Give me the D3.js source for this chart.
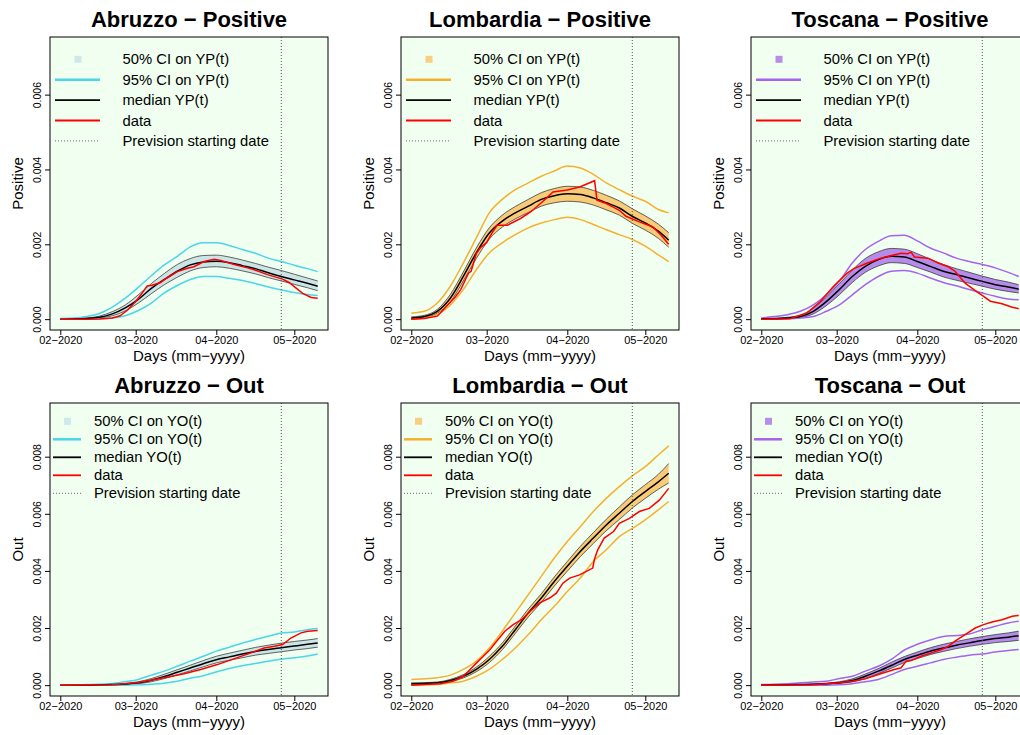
<!DOCTYPE html>
<html>
<head>
<meta charset="utf-8">
<script src="https://cdn.jsdelivr.net/npm/d3@7"></script>
<style>
  body { margin: 0; background: #fff; }
  svg text { font-family: "Liberation Sans", Arial, Helvetica, sans-serif; fill: #000; }
</style>
</head>
<body>
<div id="chart"></div>
<script>
// all model / data values below are in units of 1e-4
var SCALE = 1e-4;
// days counted from 2020-02-01
var gridDays = [0,5,10,15,20,25,30,35,40,45,50,55,60,65,70,75,80,85,90,95,99];
var previsionDay = 85;   // 2020-04-26
var lastDay = 99;        // 2020-05-10

var regions = ["Abruzzo", "Lombardia", "Toscana"];
var measures = ["Positive", "Out"];
var measureKeys = ["YP", "YO"];
var yTicksPos = [0, 0.002, 0.004, 0.006];
var yTicksOut = [0, 0.002, 0.004, 0.006, 0.008];
var yMaxPos = 0.00725, yMaxOut = 0.0095;

// ---- Abruzzo - Positive
var abrPosHi95 = [0.2,0.3,0.7,1.5,3.2,5.6,8.5,11.6,14.5,16.8,19.3,20.4,20.4,19.7,18.6,17.6,16.3,15.4,14.4,13.5,12.7];
var abrPosHi50 = [0.05,0.1,0.3,0.8,2.0,3.8,6.5,9.5,12.2,14.6,16.2,17.0,17.1,16.6,15.8,14.9,13.9,13.0,12.0,11.0,10.2];
var abrPosMed  = [0,0.05,0.2,0.5,1.4,3.0,5.3,8.2,10.6,12.8,14.5,15.3,15.5,15.1,14.3,13.5,12.4,11.4,10.5,9.6,8.8];
var abrPosLo50 = [0,0.03,0.1,0.3,0.9,2.2,4.3,6.8,9.2,11.2,12.9,13.8,14.0,13.6,12.9,12.1,11.1,10.2,9.3,8.4,7.6];
var abrPosLo95 = [0,0,0.05,0.1,0.3,0.9,2.3,4.3,7.0,9.0,10.6,11.4,11.4,10.9,10.3,9.5,8.6,7.8,7.1,6.6,6.3];
var abrPosDataDays = [0,10,15,20,23,26,29,31,33.4,35,38.6,41,45,48.9,51.4,55.3,59.2,61.7,66.9,72,74.6,79.7,85.5,88,90,93.2,96.5,99];
var abrPosData     = [0,0,0.05,0.3,0.9,2.5,4.7,6.5,8.9,9.0,9.8,11.0,12.7,13.6,14.0,15.4,16.0,15.7,14.6,13.7,13.2,11.9,10.7,9.8,8.7,6.9,5.8,5.6];

// ---- Lombardia - Positive
var lomPosHi95 = [1.6,2.1,4.3,8.8,15.0,21.7,28.4,32.0,34.6,36.4,38.2,39.6,40.9,40.4,38.7,36.4,34.6,32.9,31.5,29.3,28.4];
var lomPosHi50 = [0.6,1.0,2.6,6.6,12.6,19.0,24.4,27.8,30.1,32.0,33.8,34.9,35.5,35.3,34.4,33.1,31.6,29.5,27.6,25.4,23.1];
var lomPosMed  = [0.3,0.7,2.1,5.6,11.4,17.7,23.0,26.2,28.4,30.2,32.0,33.0,33.5,33.3,32.4,31.1,29.7,27.5,25.7,23.5,21.1];
var lomPosLo50 = [0.1,0.4,1.6,4.6,10.2,16.2,21.4,24.6,26.8,28.5,30.2,31.1,31.5,31.3,30.5,29.2,27.8,25.6,23.8,21.6,19.2];
var lomPosLo95 = [0,0.3,1.2,3.8,7.9,13.2,17.7,20.4,22.6,24.4,25.7,26.6,27.2,26.6,25.3,23.9,22.6,21.3,19.5,17.2,15.4];
var lomPosDataDays = [0,5,10,15,17,19,22,23,25,26.5,29,31,33,37,42,46,52,54.5,60,65,70.5,71.4,75,77.5,80,82.6,87.7,92.8,96,99];
var lomPosData     = [0,0.2,0.8,4.5,6.0,7.9,12.3,12.8,17.5,19.0,20.5,23.0,25.1,25.1,26.9,28.7,32.3,34.0,34.5,35.4,37.0,31.8,30.9,30.0,29.1,27.5,26.0,24.7,22.5,20.0];

// ---- Toscana - Positive
var tosPosHi95 = [0.3,0.7,1.2,2.1,3.8,6.5,10.1,15.0,18.6,20.8,22.3,22.4,20.9,19.0,17.7,16.3,15.4,14.6,13.7,12.5,11.4];
var tosPosHi50 = [0.2,0.3,0.5,1.1,2.9,5.9,9.5,13.1,16.2,18.0,18.9,18.7,17.5,16.0,14.6,13.5,12.5,11.5,10.6,9.9,9.2];
var tosPosMed  = [0.1,0.1,0.3,0.7,2.1,4.7,7.9,11.4,14.1,15.9,16.8,16.6,15.4,14.1,12.8,11.9,11.0,10.1,9.2,8.6,8.0];
var tosPosLo50 = [0,0.05,0.15,0.4,1.4,3.6,6.5,9.8,12.5,14.2,15.1,14.9,13.8,12.6,11.3,10.4,9.6,8.8,8.0,7.4,7.0];
var tosPosLo95 = [0,0,0.1,0.3,0.7,2.1,3.8,6.5,9.2,11.4,12.8,13.0,12.3,11.0,9.8,8.9,7.9,7.0,6.1,5.4,5.2];
var tosPosDataDays = [0,11,17.5,22.7,27.8,33,35.6,40.8,46,51.2,53.8,56.3,57.6,58.9,64.1,68,71.9,74.5,78.4,82.3,85.5,88.1,92.6,96.5,99];
var tosPosData     = [0,0.1,1.6,4.7,8.8,12.3,13.5,15.0,16.3,17.2,17.6,17.5,17.9,16.6,16.3,15.0,14.0,12.8,9.6,7.6,6.1,4.8,4.1,3.2,2.8];

// ---- Abruzzo - Out
var abrOutHi95 = [0.1,0.1,0.2,0.3,0.6,1.2,2.0,3.5,4.9,6.6,8.4,10.1,11.9,13.3,14.7,16.0,17.1,18.3,18.6,19.4,19.8];
var abrOutHi50 = [0,0,0.05,0.15,0.3,0.6,1.2,2.3,3.8,5.4,7.0,8.6,10.1,11.2,12.2,13.2,14.0,14.7,15.3,15.8,16.3];
var abrOutMed  = [0,0,0,0.1,0.2,0.4,0.8,1.7,3.0,4.5,6.0,7.5,8.9,9.9,10.9,11.8,12.5,13.1,13.7,14.3,14.8];
var abrOutLo50 = [0,0,0,0.05,0.1,0.25,0.5,1.2,2.3,3.6,5.0,6.4,7.8,8.7,9.6,10.5,11.1,11.7,12.3,12.8,13.3];
var abrOutLo95 = [0,0,0,0,0,0,0.1,0.3,0.7,1.4,2.4,3.3,4.6,5.8,6.8,7.6,8.4,9.1,9.6,10.2,10.9];
var abrOutDataDays = [0,20,29,34.7,41,47.6,54,60.4,67,73.3,78.4,82.3,85.5,88.7,92.6,95.2,99];
var abrOutData     = [0,0.1,0.8,1.7,2.8,4.0,5.5,7.2,9.3,11.3,13.0,13.6,14.2,16.5,18.3,18.9,19.1];

// ---- Lombardia - Out
var lomOutHi95 = [2.0,2.2,2.6,3.5,5.5,8.4,13.0,18.9,25.3,31.7,38.1,44.5,50.3,55.5,60.8,65.4,69.5,73.3,76.5,80.6,83.8];
var lomOutHi50 = [0.8,0.9,1.1,2.0,3.7,6.3,10.1,14.8,20.7,26.7,32.0,37.9,43.3,48.6,53.4,58.1,62.4,66.6,70.2,73.8,77.6];
var lomOutMed  = [0.5,0.6,0.8,1.6,3.1,5.5,9.0,13.6,19.4,25.3,30.5,36.3,41.6,46.8,51.5,56.1,60.2,64.3,67.8,71.2,74.2];
var lomOutLo50 = [0.2,0.4,0.5,1.2,2.5,4.7,7.9,12.4,18.1,23.9,29.0,34.7,39.9,45.0,49.6,54.1,58.0,62.0,65.4,68.6,70.8];
var lomOutLo95 = [0,0.1,0.2,0.8,1.4,3.1,5.5,9.0,13.0,17.7,22.9,27.6,32.8,37.5,43.3,47.4,52.0,54.9,57.9,61.4,64.3];
var lomOutDataDays = [0,11.1,16.2,20,22.6,25.1,27.7,30.3,32.8,36,39.2,42.4,45.6,49.4,53.2,55.8,58.3,60.9,64.7,69.8,70.4,71.7,74.2,77.8,80,83.9,87.7,91.5,95.4,99];
var lomOutData     = [0,0.5,1.4,3.1,5.5,7.8,10.1,12.5,15.4,18.9,21.2,22.9,25.8,28.8,30.5,32.2,35.7,37.5,38.6,41.0,44.0,47.4,51.5,53.8,56.7,58.4,60.8,61.9,64.8,68.9];

// ---- Toscana - Out
var tosOutHi95 = [0.2,0.3,0.5,0.8,1.1,1.4,2.3,3.1,4.9,6.6,9.0,12.3,14.3,15.8,17.0,17.4,17.9,19.4,20.6,21.8,22.4];
var tosOutHi50 = [0.05,0.1,0.15,0.25,0.4,0.7,1.2,2.2,3.9,5.8,8.0,10.0,11.6,13.1,14.3,15.3,16.2,17.0,17.7,18.3,18.9];
var tosOutMed  = [0,0.05,0.1,0.2,0.3,0.5,0.8,1.6,3.1,4.9,6.9,9.0,10.5,11.9,13.0,14.0,14.8,15.6,16.3,16.8,17.3];
var tosOutLo50 = [0,0.02,0.05,0.1,0.2,0.35,0.6,1.1,2.3,4.0,5.9,7.9,9.3,10.7,11.8,12.8,13.6,14.3,14.9,15.3,15.7];
var tosOutLo95 = [0,0,0,0,0,0,0.1,0.5,1.2,2.0,3.7,5.5,6.6,7.8,9.0,9.8,10.5,10.9,11.6,12.1,12.5];
var tosOutDataDays = [0,20,30,35,40,45,51.2,53.8,55.7,57.6,61.5,65.4,69.3,71.9,74.5,78.4,82.3,85.5,88.7,92.6,96.5,99];
var tosOutData     = [0,0.1,0.8,1.4,2.2,3.7,5.5,6.1,8.4,8.6,10.1,11.3,12.5,13.6,15.4,17.7,20.0,21.2,22.1,22.9,24.1,24.4];

var palette = {
    Abruzzo:   { line: "#4AD6E6", fill: "#CBE5E6", square: "#D0E8EA" },
    Lombardia: { line: "#F5B02E", fill: "#F7CB78", square: "#F8CF82" },
    Toscana:   { line: "#A463F0", fill: "#B68CEB", square: "#B58DEA" }
};

var panels = [
    { col: 0, row: 0, hi95: abrPosHi95, hi50: abrPosHi50, med: abrPosMed, lo50: abrPosLo50, lo95: abrPosLo95, dDays: abrPosDataDays, dVals: abrPosData },
    { col: 1, row: 0, hi95: lomPosHi95, hi50: lomPosHi50, med: lomPosMed, lo50: lomPosLo50, lo95: lomPosLo95, dDays: lomPosDataDays, dVals: lomPosData },
    { col: 2, row: 0, hi95: tosPosHi95, hi50: tosPosHi50, med: tosPosMed, lo50: tosPosLo50, lo95: tosPosLo95, dDays: tosPosDataDays, dVals: tosPosData },
    { col: 0, row: 1, hi95: abrOutHi95, hi50: abrOutHi50, med: abrOutMed, lo50: abrOutLo50, lo95: abrOutLo95, dDays: abrOutDataDays, dVals: abrOutData },
    { col: 1, row: 1, hi95: lomOutHi95, hi50: lomOutHi50, med: lomOutMed, lo50: lomOutLo50, lo95: lomOutLo95, dDays: lomOutDataDays, dVals: lomOutData },
    { col: 2, row: 1, hi95: tosOutHi95, hi50: tosOutHi50, med: tosOutMed, lo50: tosOutLo50, lo95: tosOutLo95, dDays: tosOutDataDays, dVals: tosOutData }
];

/*---------------------------------------------------------------------------------------*/

var width = 1020, height = 735;
var plotLeft = [50, 401, 751], plotTop = [37, 403];
var plotW = 278, plotH = 293;

var svg = d3.select("#chart").append("svg")
    .attr("width", width)
    .attr("height", height);

var t0 = Date.UTC(2020, 1, 1);
function dayToDate(d) { return new Date(t0 + d * 864e5); }

var xScale = d3.scaleUtc()
    .domain([dayToDate(-0.04 * lastDay), dayToDate(lastDay * 1.04)])
    .range([0, plotW]);

var monthTicks = [dayToDate(0), dayToDate(29), dayToDate(60), dayToDate(90)];

function drawPanel(p) {
    var region = regions[p.col], measure = measures[p.row], key = measureKeys[p.row];
    var pal = palette[region];
    var yMax = p.row == 0 ? yMaxPos : yMaxOut;
    var yScale = d3.scaleLinear()
        .domain([-0.04 * yMax, 1.04 * yMax])
        .range([plotH, 0]);

    var canvas = svg.append("g")
        .attr("transform", "translate(" + plotLeft[p.col] + "," + plotTop[p.row] + ")");

    canvas.append("rect")
        .attr("width", plotW)
        .attr("height", plotH)
        .attr("fill", "#F0FFF0");

    var model = gridDays.map(function (d, i) {
        return { date: dayToDate(d), hi95: p.hi95[i] * SCALE, hi50: p.hi50[i] * SCALE,
                 med: p.med[i] * SCALE, lo50: p.lo50[i] * SCALE, lo95: p.lo95[i] * SCALE };
    });
    var obs = p.dDays.map(function (d, i) { return { date: dayToDate(d), v: p.dVals[i] * SCALE }; });

    // 50% band
    canvas.append("path")
        .datum(model)
        .attr("fill", pal.fill)
        .attr("d", d3.area().curve(d3.curveMonotoneX)
            .x(function (d) { return xScale(d.date); })
            .y0(function (d) { return yScale(d.lo50); })
            .y1(function (d) { return yScale(d.hi50); }));

    function modelLine(field, color, w, op) {
        canvas.append("path")
            .datum(model)
            .attr("fill", "none")
            .attr("stroke", color)
            .attr("stroke-width", w)
            .attr("stroke-opacity", op)
            .attr("d", d3.line().curve(d3.curveMonotoneX)
                .x(function (d) { return xScale(d.date); })
                .y(function (d) { return yScale(d[field]); }));
    }
    modelLine("lo50", "#333", 1, 0.75);
    modelLine("hi50", "#333", 1, 0.75);
    modelLine("lo95", pal.line, 1.5, 1);
    modelLine("hi95", pal.line, 1.5, 1);
    modelLine("med", "#000", 1.5, 1);

    canvas.append("path")
        .datum(obs)
        .attr("fill", "none")
        .attr("stroke", "#FF0000")
        .attr("stroke-width", 1.5)
        .attr("d", d3.line()
            .x(function (d) { return xScale(d.date); })
            .y(function (d) { return yScale(d.v); }));

    // prevision starting date
    canvas.append("line")
        .attr("x1", xScale(dayToDate(previsionDay)))
        .attr("x2", xScale(dayToDate(previsionDay)))
        .attr("y1", 0)
        .attr("y2", plotH)
        .attr("stroke", "#555")
        .attr("stroke-width", 1)
        .attr("stroke-dasharray", "1,2");

    canvas.append("rect")
        .attr("width", plotW)
        .attr("height", plotH)
        .attr("fill", "none")
        .attr("stroke", "#000")
        .attr("stroke-width", 1);

    // axes
    var xAxis = canvas.append("g")
        .attr("transform", "translate(0," + plotH + ")")
        .style("color", "#000")
        .call(d3.axisBottom(xScale)
            .tickValues(monthTicks)
            .tickFormat(d3.utcFormat("%m\u2212%Y"))
            .tickSize(5)
            .tickPadding(1.5));
    xAxis.select(".domain").remove();
    xAxis.selectAll("text").style("font-size", "11px").style("font-family", "Liberation Sans, Arial, sans-serif");

    var yAxis = canvas.append("g")
        .style("color", "#000")
        .call(d3.axisLeft(yScale)
            .tickValues(p.row == 0 ? yTicksPos : yTicksOut)
            .tickFormat(d3.format(".3f"))
            .tickSize(5));
    yAxis.select(".domain").remove();
    yAxis.selectAll("text")
        .attr("transform", "rotate(-90)")
        .attr("x", 0)
        .attr("y", -9)
        .attr("dy", 0)
        .attr("text-anchor", "middle")
        .style("font-size", "10.5px")
        .style("font-family", "Liberation Sans, Arial, sans-serif");

    // titles
    canvas.append("text")
        .attr("x", plotW / 2)
        .attr("y", -10.5)
        .attr("text-anchor", "middle")
        .style("font-size", "22px")
        .style("font-weight", "bold")
        .text(region + " \u2212 " + measure);

    canvas.append("text")
        .attr("x", plotW / 2)
        .attr("y", plotH + 31)
        .attr("text-anchor", "middle")
        .style("font-size", "15px")
        .text("Days (mm\u2212yyyy)");

    canvas.append("text")
        .attr("transform", "translate(-27," + (plotH / 2) + ") rotate(-90)")
        .attr("text-anchor", "middle")
        .style("font-size", "15px")
        .text(measure);

    // legend
    var lg = p.row == 0
        ? { y0: 22.3, dy: 20.4, x0: 5, x1: 50, sq: 28, tx: 72.5 }
        : { y0: 18.3, dy: 18, x0: 3, x1: 31, sq: 17.5, tx: 44 };
    var items = [
        { label: "50% CI on " + key + "(t)", square: true },
        { label: "95% CI on " + key + "(t)", color: pal.line, w: 2.5 },
        { label: "median " + key + "(t)", color: "#000", w: 1.8 },
        { label: "data", color: "#FF0000", w: 1.8 },
        { label: "Prevision starting date", color: "#666", w: 1, dash: "1,2" }
    ];
    var legend = canvas.append("g");
    items.forEach(function (it, i) {
        var yy = lg.y0 + i * lg.dy;
        if (it.square) {
            legend.append("rect")
                .attr("x", lg.sq - 3.5).attr("y", yy - 3.5)
                .attr("width", 7).attr("height", 7)
                .attr("fill", pal.square);
        } else {
            legend.append("line")
                .attr("x1", lg.x0).attr("x2", lg.x1)
                .attr("y1", yy).attr("y2", yy)
                .attr("stroke", it.color)
                .attr("stroke-width", it.w)
                .attr("stroke-dasharray", it.dash || null);
        }
        legend.append("text")
            .attr("x", lg.tx)
            .attr("y", yy)
            .attr("dy", "0.35em")
            .style("font-size", "14.8px")
            .text(it.label);
    });
}

panels.forEach(drawPanel);
</script>
</body>
</html>
